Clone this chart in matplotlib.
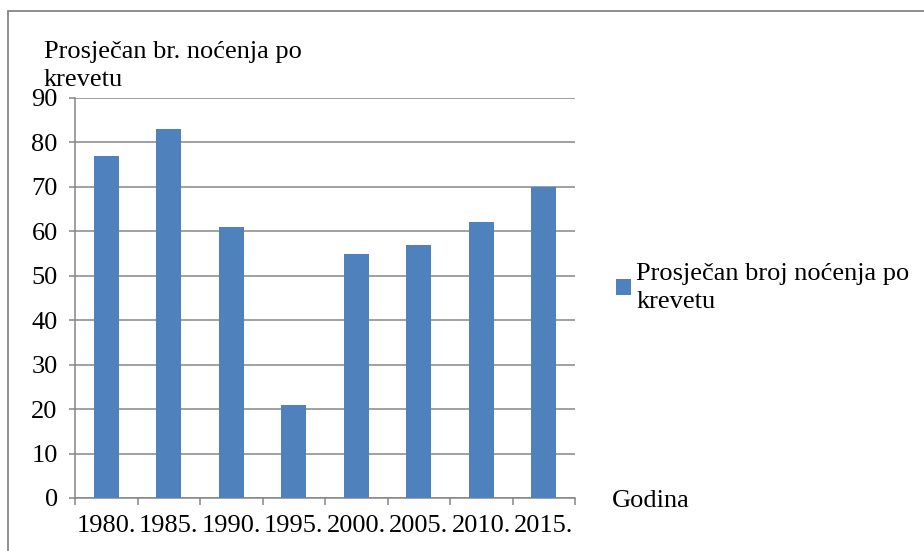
import matplotlib.pyplot as plt
from matplotlib.patches import Rectangle

# Podaci
godine = ["1980.", "1985.", "1990.", "1995.", "2000.", "2005.", "2010.", "2015."]
nocenja = [77, 83, 61, 21, 55, 57, 62, 70]
y_ticks = [0, 10, 20, 30, 40, 50, 60, 70, 80, 90]

plt.rcParams['font.family'] = ['Liberation Serif', 'DejaVu Serif']
fs = 19

fig = plt.figure(figsize=(9.24, 5.51), dpi=100)
ax = fig.add_axes([75/924, 1 - 498/551, 500/924, 400/551])

gray = '#868686'
x = list(range(len(godine)))
ax.bar(x, nocenja, width=0.4, color='#4F81BD', label='Prosječan broj noćenja po\nkrevetu', zorder=3)

ax.set_xlim(-0.5, len(godine) - 0.5)
ax.set_ylim(0, 90)
ax.set_yticks(y_ticks)
ax.yaxis.grid(True, color=gray, linewidth=1.1, zorder=0)
ax.tick_params(axis='y', length=4.5, width=1.1, color=gray, labelsize=fs, pad=8)

# tick oznake na granicama kategorija, natpisi u sredini
ax.set_xticks([i - 0.5 for i in range(len(godine) + 1)])
ax.set_xticklabels([])
ax.set_xticks(x, minor=True)
ax.set_xticklabels(godine, minor=True, fontsize=fs)
ax.tick_params(axis='x', which='major', length=5, width=1.1, color=gray)
ax.tick_params(axis='x', which='minor', length=0, pad=12)

for s in ['top', 'right']:
    ax.spines[s].set_visible(False)
for s in ['left', 'bottom']:
    ax.spines[s].set_color(gray)
    ax.spines[s].set_linewidth(1.1)

# naslov osi y (zadnji red "krevetu" poravnat po baznoj liniji)
fig.text(44/924, 1 - 86/551, 'Prosječan br. noćenja po\nkrevetu', fontsize=fs,
         ha='left', va='baseline', linespacing=1.35)
fig.text(612/924, 1 - 507/551, 'Godina', fontsize=fs, ha='left', va='baseline')

leg = ax.legend(loc='center left', bbox_to_anchor=(616/924, 1 - 288/551), bbox_transform=fig.transFigure,
                frameon=False, fontsize=fs, handlelength=0.57, handleheight=0.55, handletextpad=0.2,
                borderpad=0, borderaxespad=0, labelspacing=0)
for t in leg.get_texts():
    t.set_linespacing(1.3)

fig.patches.append(Rectangle((8/924, -0.05), 1.1, 1.05 - 11/551, transform=fig.transFigure,
                             fill=False, edgecolor=gray, linewidth=1.3))

fig.savefig('out.png', dpi=100)
